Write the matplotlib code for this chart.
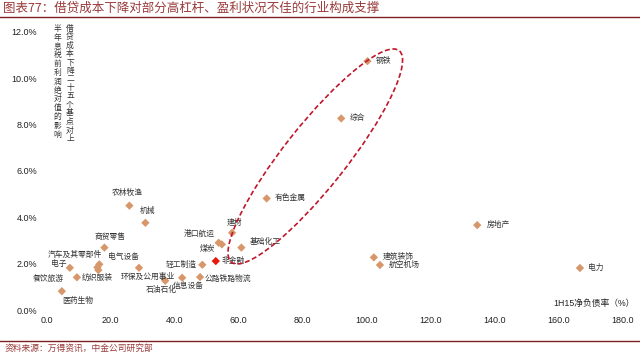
import matplotlib
matplotlib.use("Agg")
import matplotlib.pyplot as plt
from matplotlib.patches import Ellipse
from matplotlib.transforms import ScaledTranslation
from matplotlib.ticker import FuncFormatter

plt.rcParams['font.family'] = ['Liberation Sans', 'Noto Sans CJK SC', 'DejaVu Sans']

# ---------------- data ----------------
sectors = ['农林牧渔', '机械', '商贸零售', '汽车及其零部件', '电气设备', '纺织服装',
           '电子', '餐饮旅游', '医药生物', '环保及公用事业', '石油石化', '信息设备',
           '轻工制造', '公路铁路物流', '非金融', '港口航运', '煤炭', '建材', '基础化工',
           '有色金属', '钢铁', '综合', '房地产', '建筑装饰', '航空机场', '电力']
net_debt_ratio = [25.9, 30.9, 18.1, 16.5, 15.9, 16.2,
                  7.3, 9.5, 4.8, 28.9, 37.1, 42.4,
                  48.7, 48.0, 52.9, 53.8, 54.8, 58.0, 60.9,
                  68.8, 100.3, 92.1, 134.6, 102.3, 104.2, 166.7]
ebit_impact = [4.50, 3.76, 2.69, 1.97, 1.84, 1.72,
               1.82, 1.41, 0.81, 1.82, 1.26, 1.39,
               1.95, 1.42, 2.11, 2.90, 2.83, 3.33, 2.69,
               4.81, 10.73, 8.26, 3.66, 2.27, 1.94, 1.81]
highlight = '非金融'

x_ticks = [0, 20, 40, 60, 80, 100, 120, 140, 160, 180]
y_ticks = [0, 2, 4, 6, 8, 10, 12]

title = '图表77：借贷成本下降对部分高杠杆、盈利状况不佳的行业构成支撑'
source = '资料来源：万得资讯，中金公司研究部'
x_title = '1H15净负债率（%）'
y_note_right = '借贷成本下降二十五个基点对上'
y_note_left = '半年息税前利润绝对值的影响'

# label placement (pixel offsets dx, dy(up), horizontal alignment)
label_pos = {
    '农林牧渔': (-2.6, 12.4, 'center'), '机械': (2.4, 12, 'center'),
    '商贸零售': (5.7, 10.8, 'center'), '汽车及其零部件': (2.4, 9.3, 'right'),
    '电气设备': (11, 10.6, 'left'), '纺织服装': (-0.8, -7.7, 'center'),
    '电子': (-3.3, 4.0, 'right'), '餐饮旅游': (-13, -2, 'right'),
    '医药生物': (0.7, -9.7, 'left'), '环保及公用事业': (8.5, -9, 'center'),
    '石油石化': (-4.3, -9.3, 'center'), '信息设备': (6, -8.3, 'center'),
    '轻工制造': (-5.6, 0.4, 'right'), '公路铁路物流': (5, -1.7, 'left'),
    '非金融': (6, 0, 'left'), '港口航运': (-3.7, 8.7, 'right'),
    '煤炭': (-7, -4.7, 'right'), '建材': (2.2, 10, 'center'),
    '基础化工': (8, 6, 'left'), '有色金属': (8.3, 0, 'left'),
    '钢铁': (8.7, 0, 'left'), '综合': (8.7, 0, 'left'),
    '房地产': (9.4, 0, 'left'), '建筑装饰': (9.3, 0.6, 'left'),
    '航空机场': (8.3, 0, 'left'), '电力': (8.3, 0, 'left'),
}

W, H = 640, 354
fig = plt.figure(figsize=(W / 100, H / 100), dpi=100)
fig.patch.set_facecolor('white')

def fp(x, y):
    return (x / W, 1 - y / H)

ax = fig.add_axes([46.5 / W, 1 - 310 / H, (622.5 - 46.5) / W, (310 - 31.7) / H])
ax.set_xlim(0, 180)
ax.set_ylim(0, 12)
for s in ax.spines.values():
    s.set_visible(False)
ax.set_xticks(x_ticks)
ax.set_yticks(y_ticks)
ax.xaxis.set_major_formatter(FuncFormatter(lambda v, p: f'{v:.1f}'))
ax.yaxis.set_major_formatter(FuncFormatter(lambda v, p: f'{v:.1f}%'))
ax.tick_params(axis='both', length=0, labelsize=6.5, colors='#222222')
ax.tick_params(axis='y', pad=6.8)
ax.tick_params(axis='x', pad=4)

marker_col = '#D8976A'
for name, xv, yv in zip(sectors, net_debt_ratio, ebit_impact):
    col = '#E8180C' if name == highlight else marker_col
    ax.scatter([xv], [yv], marker='D', s=18, color=col, edgecolors='none', zorder=3)
    dx, dy, ha = label_pos[name]
    ax.annotate(name, (xv, yv), xytext=(dx * 0.72, dy * 0.72), textcoords='offset points',
                ha=ha, va='center', fontsize=5.6, color='#333333',
                family=['Noto Sans CJK SC', 'DejaVu Sans'], zorder=4)

# dashed ellipse around high-leverage sectors
trans = fig.dpi_scale_trans + ScaledTranslation(84.0, 6.62, ax.transData)
ell = Ellipse((0, 0), 2.70, 0.62, angle=51.6, transform=trans, fill=False,
              edgecolor='#C0172B', lw=1.2, linestyle=(0, (3, 1.6)), zorder=5)
ax.add_patch(ell)

# vertical y-axis note
for i, ch in enumerate(y_note_right):
    fig.text(*fp(70, 28.5 + i * 8.5), ch, ha='center', va='center', fontsize=5.6,
             color='#333333', family=['Noto Sans CJK SC', 'DejaVu Sans'])
for i, ch in enumerate(y_note_left):
    fig.text(*fp(57.3, 29 + i * 8.8), ch, ha='center', va='center', fontsize=5.6,
             color='#333333', family=['Noto Sans CJK SC', 'DejaVu Sans'])

# x-axis title
fig.text(*fp(635, 303), x_title, ha='right', va='center', fontsize=6.3, color='#222222')

# title & footer
title_col = '#9A3B3B'
fig.text(*fp(3, 8), title, ha='left', va='center', fontsize=9, color=title_col,
         family=['Noto Sans CJK SC', 'DejaVu Sans'])
fig.add_artist(plt.Line2D([0, 1], [1 - 17 / H, 1 - 17 / H], transform=fig.transFigure,
                          color='#7F1F1F', lw=1.0))
fig.add_artist(plt.Line2D([0, 1], [1 - 341 / H, 1 - 341 / H], transform=fig.transFigure,
                          color='#7F1F1F', lw=1.0))
fig.text(*fp(5, 348), source, ha='left', va='center', fontsize=6.3, color=title_col,
         family=['Noto Sans CJK SC', 'DejaVu Sans'])

fig.savefig('out.png', dpi=100, facecolor='white')
